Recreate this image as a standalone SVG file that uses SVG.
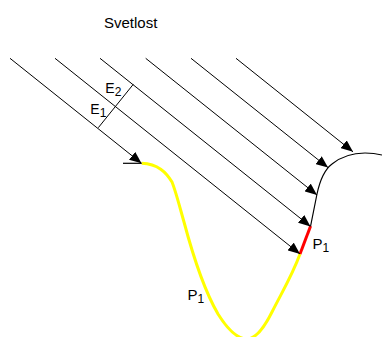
<svg xmlns="http://www.w3.org/2000/svg" width="382" height="337" viewBox="0 0 382 337">
<style>
.ray{stroke:#000;stroke-width:1;fill:none}
.t{font-family:"Liberation Sans",Arial,sans-serif;fill:#000}
.s{font-size:12px}
</style>
<defs>
<marker id="ah" markerUnits="userSpaceOnUse" markerWidth="12" markerHeight="10" viewBox="0 0 12 10" refX="12" refY="5" orient="auto">
<path d="M0,0 L12,5 L0,10 Z" fill="#000"/>
</marker>
</defs>
<rect width="382" height="337" fill="#fff"/>
<g id="surface">
<path d="M123,163.3 L141.7,163.3" stroke="#000" stroke-width="1.2" fill="none"/>
<path d="M141.7,163.3 C158,164 166,172 172,182 C176,192 180,208 184,222 C192,252 204,290 218,314 C228,330 238,339 247,339 C256,339 264,328 272,312 C282,292 292,276 300,254" stroke="#ffff00" stroke-width="3" fill="none"/>
<path d="M300,254 L310.6,226" stroke="#ff0000" stroke-width="3" fill="none"/>
<path d="M310.6,226 L317,194 C320,180 324,170 332,164 C342,156 352,153 365,153 C372,153 378,154 382,155" stroke="#000" stroke-width="1.2" fill="none"/>
</g>
<g id="connectors">
<line class="ray" x1="10" y1="58.3" x2="141.5" y2="163.3" marker-end="url(#ah)"/>
<line class="ray" x1="55" y1="58.3" x2="300" y2="254" marker-end="url(#ah)"/>
<line class="ray" x1="100" y1="58.3" x2="310.5" y2="226.4" marker-end="url(#ah)"/>
<line class="ray" x1="145.7" y1="58.3" x2="317" y2="195" marker-end="url(#ah)"/>
<line class="ray" x1="191" y1="58.3" x2="328" y2="167.6" marker-end="url(#ah)"/>
<line class="ray" x1="236" y1="58.3" x2="353" y2="151.8" marker-end="url(#ah)"/>
<line class="ray" x1="98.3" y1="127.7" x2="133.3" y2="84.3"/>
</g>
<g id="labels">
<text class="t" x="104" y="27.7" font-size="15">Svetlost</text>
<text class="t" x="105.3" y="93.3" font-size="14">E<tspan class="s" dy="3">2</tspan></text>
<text class="t" x="90.3" y="114" font-size="14">E<tspan class="s" dy="3">1</tspan></text>
<text class="t" x="312.5" y="249.3" font-size="15">P<tspan class="s" dy="2.5">1</tspan></text>
<text class="t" x="187.5" y="300" font-size="15">P<tspan class="s" dy="2.5">1</tspan></text>
</g>
</svg>
